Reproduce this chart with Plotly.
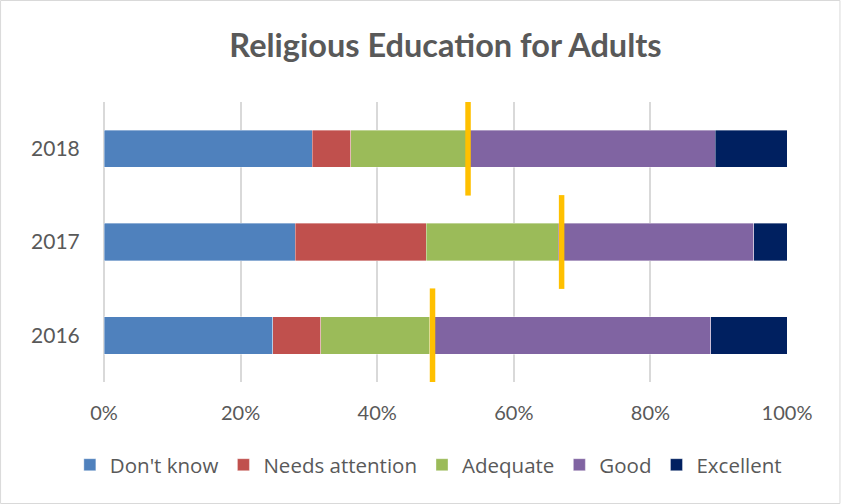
import plotly.graph_objects as go

years = ["2016", "2017", "2018"]
categories = ["Don't know", "Needs attention", "Adequate", "Good", "Excellent"]
colors = ["#4F81BD", "#C0504D", "#9BBB59", "#8064A2", "#002060"]

# share of responses per rating, by year (fractions of 1)
dont_know = [0.247, 0.280, 0.305]
needs_attention = [0.070, 0.192, 0.056]
adequate = [0.160, 0.193, 0.170]
good = [0.411, 0.286, 0.364]
excellent = [0.112, 0.049, 0.105]
series = [dont_know, needs_attention, adequate, good, excellent]

# average score marker per year
average_marker = [0.481, 0.670, 0.533]

text_color = "#595959"
font_family = "Lato, 'Open Sans', sans-serif"

fig = go.Figure()
for name, vals, col in zip(categories, series, colors):
    fig.add_trace(go.Bar(
        y=years, x=vals, name=name, orientation="h",
        marker=dict(color=col, line=dict(color="rgba(255,255,255,0.6)", width=0.6)),
        width=0.4,
    ))

fig.add_trace(go.Scatter(
    y=years, x=average_marker, mode="markers", showlegend=False,
    marker=dict(symbol="line-ns", size=67, color="#FFC000",
                line=dict(color="#FFC000", width=5.5)),
    hoverinfo="x",
))

fig.update_layout(
    barmode="stack",
    width=841, height=504,
    margin=dict(l=103.5, r=54, t=102, b=122, autoexpand=False),
    paper_bgcolor="white", plot_bgcolor="white",
    font=dict(family=font_family, color=text_color, size=19),
    title=dict(text="<b>Religious Education for Adults</b>", x=0.5, xanchor="center",
               xref="paper", y=1 - 46 / 504, yanchor="middle",
               font=dict(size=32.5, color=text_color, family=font_family)),
    # anchored left of the plot area so the single row may use the left margin too
    legend=dict(orientation="h", x=-0.05, xanchor="left",
                y=-0.296, yanchor="middle",
                font=dict(size=20.5, color=text_color, family="'Open Sans', sans-serif"),
                traceorder="normal", itemwidth=30, bgcolor="rgba(0,0,0,0)"),
    showlegend=True,
)
fig.update_xaxes(range=[0, 1], tickformat=".0%", dtick=0.2, tick0=0,
                 showgrid=True, gridcolor="#D9D9D9", gridwidth=1.5,
                 zeroline=True, zerolinecolor="#D9D9D9", zerolinewidth=1.5,
                 showline=False, ticks="outside", ticklen=13, tickcolor="white",
                 tickfont=dict(size=20, color=text_color), fixedrange=True)
fig.update_yaxes(categoryorder="array", categoryarray=years, range=[-0.5, 2.5],
                 showgrid=False, zeroline=False, showline=False, ticks="outside",
                 ticklen=19, tickcolor="white", tickfont=dict(size=21, color=text_color))

# outer chart border
fig.add_shape(type="rect", xref="paper", yref="paper",
              x0=-103.5 / 683.5, x1=1 + 53 / 683.5, y0=-121.5 / 280, y1=1 + 101.5 / 280,
              line=dict(color="#D9D9D9", width=1), layer="above")

fig.write_html("out.html")
